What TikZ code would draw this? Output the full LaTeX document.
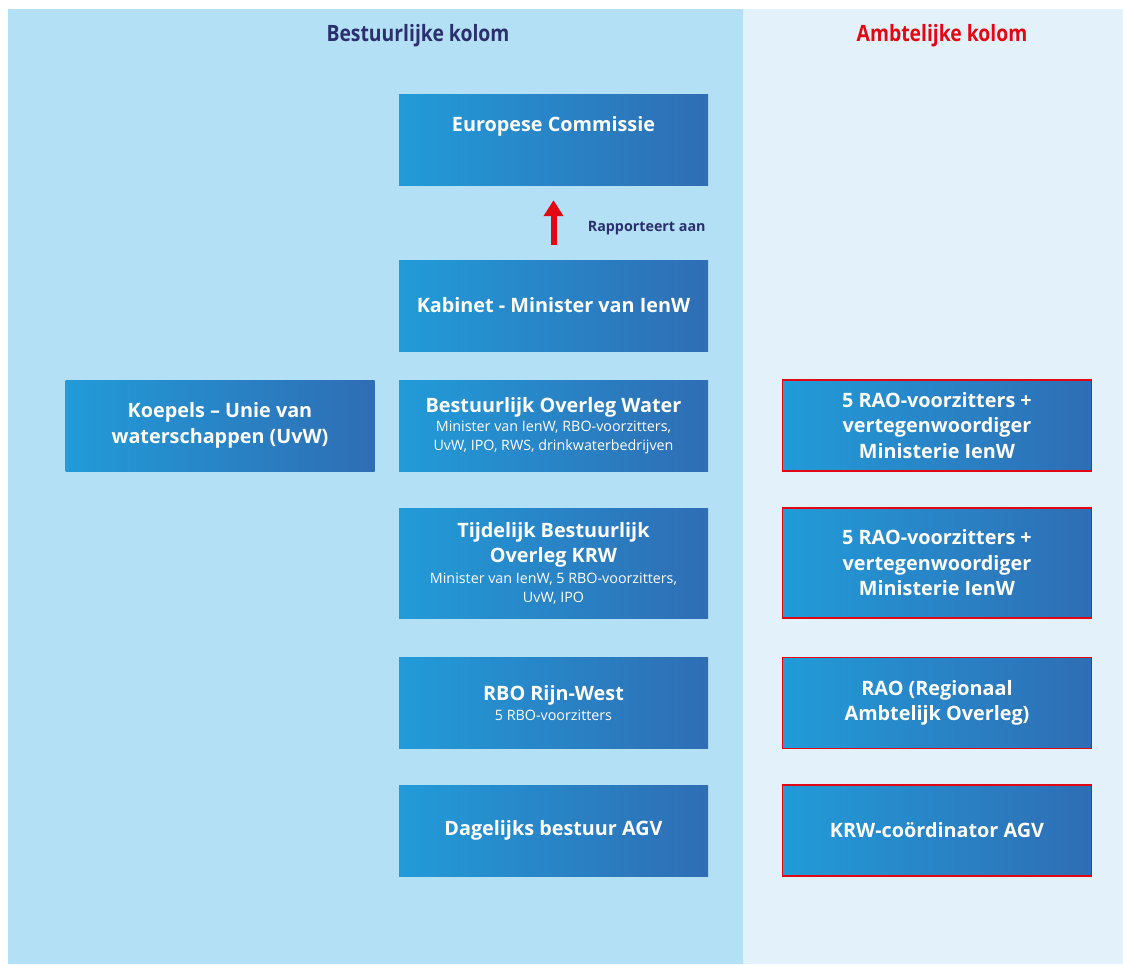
\documentclass[tikz,border=0pt]{standalone}
\usepackage{fontspec}
\setmainfont{Open Sans}
\newfontfamily\headfont[FakeStretch=0.86]{Open Sans}
\usetikzlibrary{arrows.meta}
\definecolor{panelblue}{HTML}{B3E0F4}
\definecolor{panelpale}{HTML}{E3F2FA}
\definecolor{boxleft}{HTML}{229BD8}
\definecolor{boxright}{HTML}{2F6DB4}
\definecolor{navy}{HTML}{2B2F6E}
\definecolor{krwred}{HTML}{E30613}
\newcommand{\sublabel}{\fontsize{14.3}{18}\selectfont\mdseries}

\begin{document}
\begin{tikzpicture}[x=1pt, y=-1pt,
  orgbox/.style={rectangle, left color=boxleft, right color=boxright,
    text=white, align=center, inner sep=0pt,
    minimum width=309pt, minimum height=91pt,
    font=\fontsize{19.8}{25.5}\selectfont\bfseries},
  ambtbox/.style={orgbox, draw=krwred, line width=1.2pt},
  kolomhead/.style={font=\headfont\fontsize{22.5}{24}\selectfont\bfseries},
  reportarrow/.style={krwred, line width=6pt,
    -{Triangle[width=19pt, length=16pt]},
    shorten <=15pt, shorten >=15pt}]
  \useasboundingbox (0,0) rectangle (1123,964);
  % achtergrond kolommen
  \fill[panelblue] (8,9) rectangle (743,964);
  \fill[panelpale] (743,9) rectangle (1123,964);
  \node[kolomhead, text=navy] (hdrB) at (418,36) {Bestuurlijke kolom};
  \node[kolomhead, text=krwred] (hdrA) at (942,36) {Ambtelijke kolom};

  % bestuurlijke kolom
  \node[orgbox, text depth=31pt] (ec) at (553.5,139.5) {Europese Commissie};
  \node[orgbox] (kab) at (553.5,305.5) {Kabinet - Minister van IenW};
  \node[orgbox] (bow) at (553.5,425.5)
    {Bestuurlijk Overleg Water\\[-6pt]
     \sublabel Minister van IenW, RBO-voorzitters,\\[-6.5pt]
     \sublabel UvW, IPO, RWS, drinkwaterbedrijven};
  \node[orgbox, minimum height=110pt] (tbo) at (553.5,563)
    {Tijdelijk Bestuurlijk\\ Overleg KRW\\[-5pt]
     \sublabel Minister van IenW, 5 RBO-voorzitters,\\[-6.5pt]
     \sublabel UvW, IPO};
  \node[orgbox] (rbo) at (553.5,703)
    {RBO Rijn-West\\[-6pt] \sublabel 5 RBO-voorzitters};
  \node[orgbox] (db) at (553.5,830.5) {Dagelijks bestuur AGV};
  \node[orgbox] (koep) at (220,425.5)
    {Koepels -- Unie van\\ waterschappen (UvW)};

  % ambtelijke kolom
  \node[ambtbox] (rao1) at (937,425.5)
    {5 RAO-voorzitters +\\ vertegenwoordiger\\ Ministerie IenW};
  \node[ambtbox, minimum height=110pt] (rao2) at (937,563)
    {5 RAO-voorzitters +\\ vertegenwoordiger\\ Ministerie IenW};
  \node[ambtbox] (rao3) at (937,703)
    {RAO (Regionaal\\ Ambtelijk Overleg)};
  \node[ambtbox] (krw) at (937,830.5) {KRW-coördinator AGV};

  \draw[reportarrow] (kab) -- (ec)
    node[midway, right, xshift=28pt, yshift=-6pt, text=navy,
         font=\fontsize{14.3}{16}\selectfont\bfseries] (rapp) {Rapporteert aan};
\end{tikzpicture}
\end{document}
